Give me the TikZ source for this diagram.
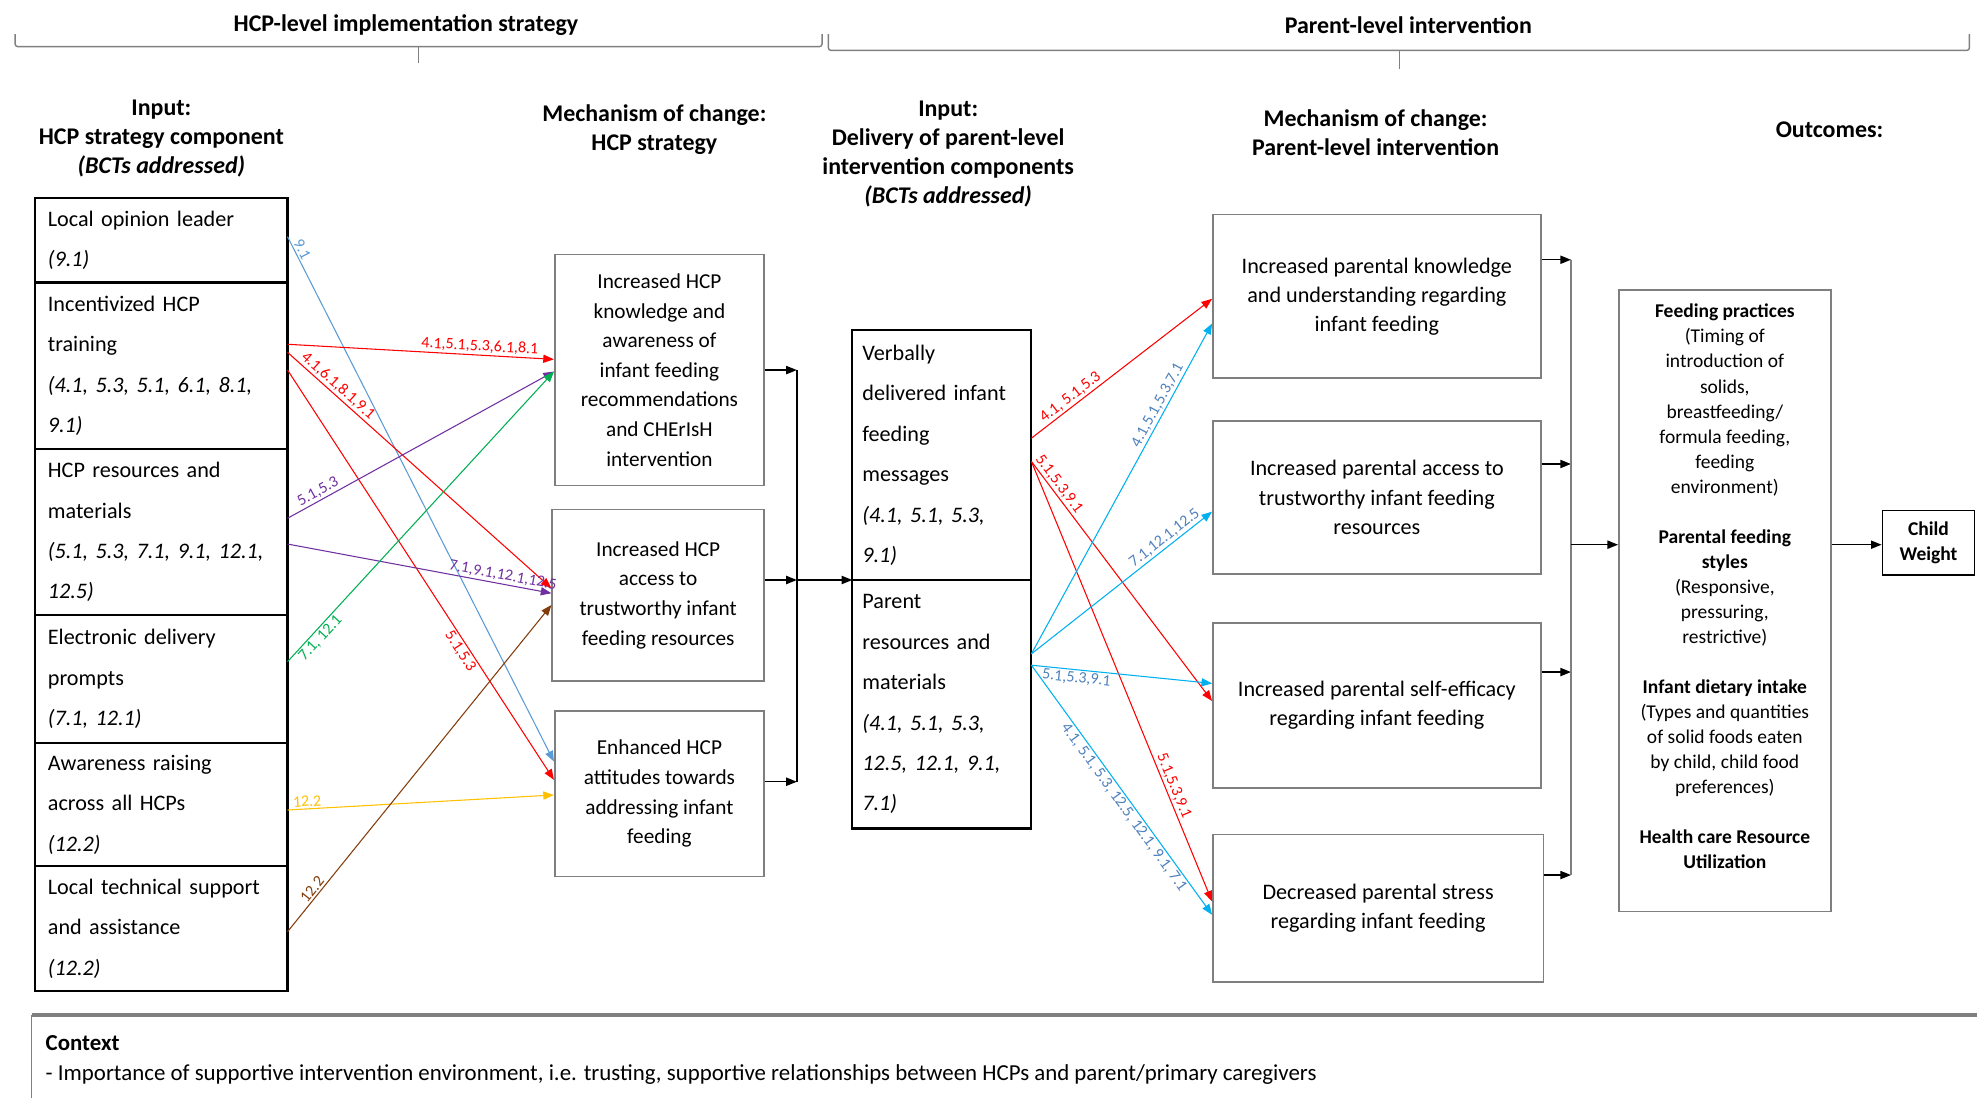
\documentclass[tikz,border=0pt]{standalone}
\usepackage{fontspec}
\setmainfont{Carlito}
\usepackage{tikz}
\usetikzlibrary{positioning}
\usetikzlibrary{calc}
\usetikzlibrary{arrows.meta}

\definecolor{arrred}{HTML}{FF0000}
\definecolor{arrsky}{HTML}{00B0F0}
\definecolor{arrsteel}{HTML}{5B9BD5}
\definecolor{lblsteel}{HTML}{4F81BD}
\definecolor{arrpurple}{HTML}{7030A0}
\definecolor{arrgreen}{HTML}{00B050}
\definecolor{arryellow}{HTML}{FFC000}
\definecolor{arrbrown}{HTML}{843C0C}
\definecolor{boxgray}{HTML}{7F7F7F}
\definecolor{bracegray}{HTML}{808080}

\tikzset{
  hdr/.style={align=center,font=\fontsize{13.5}{16.4}\selectfont\bfseries},
  cell/.style={draw=black,line width=1.2pt,outer sep=0pt,inner xsep=0.25cm,inner ysep=0pt,text width=4.5cm,align=left,font=\fontsize{12.5}{22.8}\selectfont},
  dlv/.style={cell,inner xsep=0.2cm,text width=3.15cm},
  mech/.style={draw=boxgray,line width=0.9pt,align=center,inner sep=0pt,font=\fontsize{12}{16.7}\selectfont},
  pmech/.style={mech,font=\fontsize{12.5}{16.4}\selectfont},
  conn/.style={draw=black,line width=0.8pt},
  bctarr/.style={line width=0.6pt,->},
  bct/.style={font=\fontsize{9}{10}\selectfont,sloped,inner sep=1pt},
  brc/.style={draw=bracegray,line width=0.8pt,rounded corners=1.5pt},
}

\begin{document}
\begin{tikzpicture}[x=0.025cm,y=-0.025cm,>={Triangle[length=6pt,width=4.6pt]}]

\useasboundingbox (0,0) rectangle (1568,871);

%TOP braces
\node[hdr](HCPL-title) at (322,20) {HCP-level implementation strategy};
\node[hdr](PARL-title) at (1117,20) {Parent-level intervention};
\draw[brc] (12,27) -- (12,37) -- (652,37) -- (652,27);
\draw[brc] (332,37) -- (332,50);
\draw[brc] (657,27) -- (657,40) -- (1562,40) -- (1562,27);
\draw[brc] (1110,40) -- (1110,55);

%HEADERS
\node[hdr](HCPS-head) at (128,110) {Input:\\HCP strategy component\\\textit{(BCTs addressed)}};
\node[hdr](HMEC-head) at (519,102.5) {Mechanism of change:\\HCP strategy};
\node[hdr](DLV-head) at (752,122) {Input:\\Delivery of parent-level\\intervention components\\\textit{(BCTs addressed)}};
\node[hdr](PMEC-head) at (1091,105) {Mechanism of change:\\Parent-level intervention};
\node[hdr](OUT-head) at (1451,103) {Outcomes:};

%LEFT: HCP strategy components
\node[cell,anchor=north west,minimum height=1.675cm](LOL-box) at (28,157) {Local opinion leader\\\textit{(9.1)}};
\node[cell,below=0pt of LOL-box,minimum height=3.3cm](TRN-box) {Incentivized HCP\\training\\\textit{(4.1, 5.3, 5.1, 6.1, 8.1,}\\\textit{9.1)}};
\node[cell,below=0pt of TRN-box,minimum height=3.3cm](RES-box) {HCP resources and\\materials\\\textit{(5.1, 5.3, 7.1, 9.1, 12.1,}\\\textit{12.5)}};
\node[cell,below=0pt of RES-box,minimum height=2.525cm](ELC-box) {Electronic delivery\\prompts\\\textit{(7.1, 12.1)}};
\node[cell,below=0pt of ELC-box,minimum height=2.45cm](AWR-box) {Awareness raising\\across all HCPs\\\textit{(12.2)}};
\node[cell,below=0pt of AWR-box,minimum height=2.475cm](LTS-box) {Local technical support\\and assistance\\\textit{(12.2)}};

%MECHANISM: HCP strategy
\node[mech,minimum width=4.15cm,minimum height=4.575cm](KNO-box) at (523,293.5) {Increased HCP\\knowledge and\\awareness of\\infant feeding\\recommendations\\and CHErIsH\\intervention};
\node[mech,minimum width=4.2cm,minimum height=3.4cm](ACC-box) at (522,472) {Increased HCP\\access to\\trustworthy infant\\feeding resources};
\node[mech,minimum width=4.15cm,minimum height=3.275cm](ATT-box) at (523,629.5) {Enhanced HCP\\attitudes towards\\addressing infant\\feeding};

%DELIVERY: parent-level components
\node[dlv,anchor=north west,minimum height=4.95cm](VRB-box) at (676,262) {Verbally\\delivered infant\\feeding\\messages\\\textit{(4.1, 5.1, 5.3,}\\\textit{9.1)}};
\node[dlv,below=0pt of VRB-box,minimum height=4.925cm](PRM-box) {Parent\\resources and\\materials\\\textit{(4.1, 5.1, 5.3,}\\\textit{12.5, 12.1, 9.1,}\\\textit{7.1)}};

%MECHANISM: parent-level
\node[pmech,minimum width=6.5cm,minimum height=3.25cm](PK-box) at (1092,235) {Increased parental knowledge\\and understanding regarding\\infant feeding};
\node[pmech,minimum width=6.5cm,minimum height=3.025cm](PA-box) at (1092,394.5) {Increased parental access to\\trustworthy infant feeding\\resources};
\node[pmech,minimum width=6.5cm,minimum height=3.275cm](PS-box) at (1092,559.5) {Increased parental self-efficacy\\regarding infant feeding};
\node[pmech,minimum width=6.55cm,minimum height=2.925cm](PST-box) at (1093,720.5) {Decreased parental stress\\regarding infant feeding};

%OUTCOMES
\node[mech,font=\fontsize{11}{14.15}\selectfont,minimum width=4.2cm,minimum height=12.325cm](OUT-box) at (1368,476.5) {\textbf{Feeding practices}\\(Timing of\\introduction of\\solids,\\breastfeeding/\\formula feeding,\\feeding\\environment)\\[14pt]\textbf{Parental feeding}\\\textbf{styles}\\(Responsive,\\pressuring,\\restrictive)\\[14pt]\textbf{Infant dietary intake}\\(Types and quantities\\of solid foods eaten\\by child, child food\\preferences)\\[14pt]\textbf{Health care Resource}\\\textbf{Utilization}\\[2pt]\mbox{}};
\node[draw=black,line width=0.9pt,align=center,inner sep=0pt,font=\fontsize{11}{14}\selectfont\bfseries,minimum width=1.825cm,minimum height=1.275cm](CW-box) at (1529.5,430.5) {Child\\Weight};

%CONTEXT
\draw[draw=boxgray,line width=0.8pt] (25,871) -- (25,805);
\draw[draw=boxgray,line width=1.8pt] (25,805) -- (1568,805);
\node[anchor=north west,align=left,inner sep=0pt,font=\fontsize{12.9}{17}\selectfont](CTX-label) at (36,821) {\textbf{Context}\\- Importance of supportive intervention environment, i.e. trusting, supportive relationships between HCPs and parent/primary caregivers};

%JOIN lines
\coordinate (HJ) at (632,460);
\coordinate (ACC-out) at ($(ACC-box.east)+(0,-12)$);
\coordinate (ATT-out) at ($(ATT-box.east)+(0,-9.5)$);
\draw[conn,->] (KNO-box.east) -- (KNO-box.east -| HJ);
\draw[conn,->] (ACC-out) -- (ACC-out -| HJ);
\draw[conn,->] (ATT-out) -- (ATT-out -| HJ);
\draw[conn] (KNO-box.east -| HJ) -- (ATT-out -| HJ);
\draw[conn,->] (HJ) -- (HJ -| VRB-box.west);

\coordinate (PJ) at (1246,432);
\coordinate (PK-out) at ($(PK-box.east)+(0,-29)$);
\coordinate (PA-out) at ($(PA-box.east)+(0,-26.5)$);
\coordinate (PS-out) at ($(PS-box.east)+(0,-26.5)$);
\coordinate (PST-out) at ($(PST-box.east)+(0,-26.5)$);
\draw[conn,->] (PK-out) -- (PK-out -| PJ);
\draw[conn,->] (PA-out) -- (PA-out -| PJ);
\draw[conn,->] (PS-out) -- (PS-out -| PJ);
\draw[conn,->] (PST-out) -- (PST-out -| PJ);
\draw[draw=boxgray,line width=0.8pt] (PK-out -| PJ) -- (PST-out -| PJ);
\draw[conn,->] (PJ) -- (PJ -| OUT-box.west);
\draw[conn,->] (PJ -| OUT-box.east) -- (PJ -| CW-box.west);

%LEFT arrows (BCTs)
\draw[bctarr,arrsteel] ($(LOL-box.east)+(0,-2.8)$) -- node[bct,pos=0.03,above]{9.1} ($(ATT-box.west)+(0,-25.5)$);
\draw[bctarr,arrred] ($(TRN-box.east)+(0,-17)$) -- node[bct,pos=0.72,above]{4.1,5.1,5.3,6.1,8.1} ($(KNO-box.west)+(0,-8.5)$);
\draw[bctarr,arrred] ($(TRN-box.east)+(0,-10.6)$) -- node[bct,pos=0.17,above]{4.1,6.1,8.1,9.1} ($(ACC-box.west)+(0,-5.5)$);
\draw[bctarr,arrred] ($(TRN-box.east)+(0,3.4)$) -- node[bct,pos=0.675,below]{5.1,5.3} ($(ATT-box.west)+(0,-11)$);
\draw[bctarr,arrpurple] ($(RES-box.east)+(0,-11)$) -- node[bct,pos=0.13,above]{5.1,5.3} ($(KNO-box.west)+(0,1.2)$);
\draw[bctarr,arrpurple] ($(RES-box.east)+(0,9.4)$) -- node[bct,pos=0.81,above]{7.1,9.1,12.1,12.5} ($(ACC-box.west)+(0,-1.5)$);
\draw[bctarr,arrgreen] ($(ELC-box.east)+(0,-13.8)$) -- node[bct,pos=0.10,below]{7.1, 12.1} ($(KNO-box.west)+(0,1.2)$);
\draw[bctarr,arryellow] ($(AWR-box.east)+(0,4.3)$) -- node[bct,pos=0.075,above]{12.2} ($(ATT-box.west)+(0,1)$);
\draw[bctarr,arrbrown] ($(LTS-box.east)+(0,2.3)$) -- node[bct,pos=0.115,above]{12.2} ($(ACC-box.west)+(0,7.8)$);

%RIGHT arrows (BCTs)
\draw[bctarr,arrred] ($(VRB-box.east)+(0,-13.5)$) -- node[bct,pos=0.245,above]{4.1, 5.1,5.3} ($(PK-box.west)+(0,2)$);
\draw[bctarr,arrred] ($(VRB-box.east)+(0,5)$) -- node[bct,pos=0.115,above]{5.1,5.3,9.1} ($(PS-box.west)+(0,-3.5)$);
\draw[bctarr,arrred] ($(VRB-box.east)+(0,5)$) -- node[bct,pos=0.745,above]{5.1,5.3,9.1} ($(PST-box.west)+(0,-5.5)$);
\draw[bctarr,arrsky] ($(PRM-box.east)+(0,-40)$) -- node[bct,pos=0.74,above,text=lblsteel]{4.1,5.1,5.3,7.1} ($(PK-box.west)+(0,21.6)$);
\draw[bctarr,arrsky] ($(PRM-box.east)+(0,-40)$) -- node[bct,pos=0.766,above,text=lblsteel]{7.1,12.1,12.5} ($(PA-box.west)+(0,11.3)$);
\draw[bctarr,arrsky] ($(PRM-box.east)+(0,-31)$) -- node[bct,pos=0.254,below,text=lblsteel]{5.1,5.3,9.1} ($(PS-box.west)+(0,-17.5)$);
\draw[bctarr,arrsky] ($(PRM-box.east)+(0,-31)$) -- node[bct,pos=0.55,below,text=lblsteel]{4.1,~5.1,~5.3,~12.5,~12.1,~9.1,~7.1} ($(PST-box.west)+(0,5)$);

\end{tikzpicture}
\end{document}
